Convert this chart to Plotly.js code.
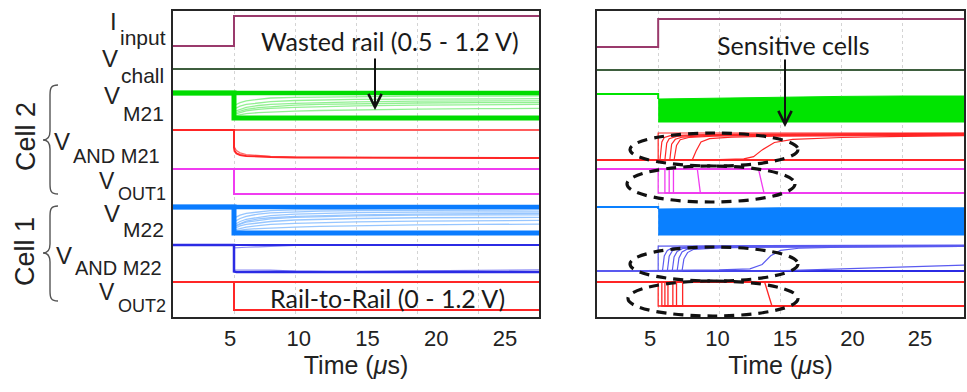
<!DOCTYPE html>
<html><head><meta charset="utf-8">
<script src="https://cdn.plot.ly/plotly-3.0.1.min.js"></script>
<style>html,body{margin:0;padding:0;background:#fff}</style>
</head><body><div id="chart" style="width:967px;height:392px"></div>
<script>
// ================= DATA =================
// time bases (µs)
const tSpan = [0, 30];
const tStep5 = [0, 5, 5, 30];
const tRail = [0, 5, 5, 5.5, 6, 7, 8, 10, 12, 15, 20, 25, 30];
const tAnd = [0, 5, 5, 5.05, 5.2, 5.5, 6, 7, 8, 10, 14, 20, 30];
const tBand = [5, 10, 15, 20, 25, 30];
const tPre = [0, 5, 5];

// common inputs (both panels)
const iInput = [0, 0, 1, 1];          // normalised input current
const vChall = [1.2, 1.2];            // V

// ---------- left panel : wasted rail ----------
const L_m21_high = [1.2,1.2,1.2,1.2,1.2,1.2,1.2,1.2,1.2,1.2,1.2,1.2,1.2];
const L_m21_low  = [1.2,1.2,0.5,0.5,0.5,0.5,0.5,0.5,0.5,0.5,0.5,0.5,0.5];
const L_m21_a = [1.2,1.2,0.60,0.66,0.70,0.74,0.77,0.80,0.82,0.84,0.86,0.87,0.88];
const L_m21_b = [1.2,1.2,0.68,0.75,0.80,0.85,0.88,0.91,0.93,0.95,0.97,0.98,0.98];
const L_m21_c = [1.2,1.2,0.75,0.83,0.88,0.93,0.96,0.99,1.01,1.02,1.03,1.04,1.04];
const L_m21_d = [1.2,1.2,0.85,0.93,0.98,1.03,1.06,1.08,1.09,1.10,1.11,1.11,1.12];
const L_m21_e = [1.2,1.2,0.56,0.60,0.62,0.65,0.67,0.69,0.71,0.73,0.75,0.76,0.77];
const L_m21_f = [1.2,1.2,0.64,0.70,0.74,0.79,0.82,0.86,0.88,0.90,0.92,0.93,0.93];

const L_and21_high = [1.2,1.2,1.2,1.2,1.2,1.2,1.2,1.2,1.2,1.2,1.2,1.2,1.2];
const L_and21_a = [1.2,1.2,0.45,0.30,0.20,0.13,0.09,0.06,0.04,0.02,0.01,0,0];
const L_and21_b = [1.2,1.2,0.60,0.45,0.32,0.22,0.15,0.10,0.07,0.04,0.02,0.01,0];

const L_out1_high = [1.2, 1.2];
const L_out1_low  = [1.2, 1.2, 0, 0];

const L_m22_high = [1.2,1.2,1.2,1.2,1.2,1.2,1.2,1.2,1.2,1.2,1.2,1.2,1.2];
const L_m22_low  = [1.2,1.2,0.5,0.5,0.5,0.5,0.5,0.5,0.5,0.5,0.5,0.5,0.5];
const L_m22_a = [1.2,1.2,0.58,0.63,0.66,0.70,0.73,0.76,0.78,0.80,0.82,0.83,0.84];
const L_m22_b = [1.2,1.2,0.62,0.69,0.73,0.78,0.81,0.85,0.87,0.89,0.91,0.92,0.92];
const L_m22_c = [1.2,1.2,0.66,0.74,0.79,0.84,0.88,0.92,0.94,0.96,0.98,0.99,0.99];
const L_m22_d = [1.2,1.2,0.72,0.81,0.87,0.93,0.97,1.01,1.03,1.05,1.06,1.07,1.07];
const L_m22_e = [1.2,1.2,0.80,0.89,0.95,1.01,1.04,1.07,1.09,1.10,1.11,1.12,1.12];
const L_m22_f = [1.2,1.2,0.55,0.58,0.60,0.62,0.64,0.66,0.68,0.70,0.72,0.73,0.74];
const L_m22_g = [1.2,1.2,0.90,0.98,1.03,1.07,1.10,1.12,1.13,1.14,1.15,1.15,1.16];
const L_m22_h = [1.2,1.2,0.68,0.76,0.82,0.88,0.91,0.95,0.97,0.99,1.01,1.02,1.03];

const L_and22_high = [1.2,1.2,1.2,1.2,1.2,1.2,1.2,1.2,1.2,1.2,1.2,1.2,1.2];
const L_and22_drop = [1.2,1.2,0.02,0.01,0,0,0,0,0,0,0,0,0];
const L_and22_back = [1.2,1.2,1.07,1.07,1.08,1.09,1.10,1.12,1.14,1.18,1.2,1.2,1.2];
const L_and22_near = [1.2,1.2,0.10,0.10,0.10,0.10,0.10,0.09,0.08,0.04,0.01,0.05,0.10];

const L_out2_high = [1.2, 1.2];
const L_out2_low  = [1.2, 1.2, 0, 0];

// ---------- right panel : rail-to-rail, sensitive cells ----------
const R_m21_pre = [1.2, 1.2, 1.075];
const R_m21_upper = [1.075, 1.10, 1.125, 1.14, 1.15, 1.15];
const R_m21_lower = [0.5, 0.5, 0.5, 0.5, 0.5, 0.5];

const R_and21_t1 = [0, 5, 5, 30];                               const R_and21_v1 = [0, 0, 1.2, 1.2];
const R_and21_t2 = [0, 5.15, 5.3, 5.5, 6, 8, 12, 20, 30];        const R_and21_v2 = [0, 0, 0.8, 1.0, 1.08, 1.12, 1.15, 1.17, 1.18];
const R_and21_t3 = [0, 5.55, 5.7, 5.9, 6.5, 8, 12, 20, 30];      const R_and21_v3 = [0, 0, 0.75, 0.95, 1.05, 1.10, 1.13, 1.15, 1.16];
const R_and21_t4 = [0, 5.95, 6.1, 6.4, 7, 9, 13, 20, 30];        const R_and21_v4 = [0, 0, 0.7, 0.92, 1.02, 1.08, 1.11, 1.13, 1.14];
const R_and21_t5 = [0, 6.3, 6.5, 6.8, 7.5, 9.5, 13, 20, 30];     const R_and21_v5 = [0, 0, 0.65, 0.9, 1.0, 1.06, 1.09, 1.11, 1.12];
const R_and21_t6 = [0, 7.8, 8.1, 8.5, 9.2, 11, 15, 22, 30];      const R_and21_v6 = [0, 0.02, 0.4, 0.8, 0.95, 1.02, 1.06, 1.09, 1.10];
const R_and21_t7 = [0, 5, 10, 12, 12.8, 13.5, 14.5, 16, 20, 25, 30];
const R_and21_v7 = [0, 0, 0.02, 0.05, 0.15, 0.45, 0.78, 0.92, 1.0, 1.05, 1.08];
const R_and21_low = [0, 0];

const R_out1_high = [1.2, 1.2];
const R_out1_fallStart = [5.0, 5.55, 5.9, 6.25, 8.2, 13.2];
const R_out1_fallEnd   = [5.0, 5.55, 5.9, 6.25, 8.45, 13.65];

const R_m22_pre = [1.2, 1.2, 1.15];
const R_m22_upper = [1.15, 1.17, 1.18, 1.18, 1.18, 1.18];
const R_m22_lower = [0.5, 0.5, 0.5, 0.5, 0.5, 0.5];

const R_and22_t1 = [0, 5, 5, 30];                                const R_and22_v1 = [0, 0, 1.15, 1.2];
const R_and22_t2 = [0, 5.35, 5.5, 5.75, 6.2, 8, 12, 20, 30];     const R_and22_v2 = [0, 0, 0.7, 0.95, 1.08, 1.13, 1.15, 1.16, 1.17];
const R_and22_t3 = [0, 5.75, 5.9, 6.15, 6.6, 8.5, 12, 20, 30];   const R_and22_v3 = [0, 0, 0.68, 0.93, 1.06, 1.12, 1.14, 1.15, 1.16];
const R_and22_t4 = [0, 6.15, 6.3, 6.55, 7.0, 9, 13, 20, 30];     const R_and22_v4 = [0, 0, 0.65, 0.9, 1.04, 1.10, 1.12, 1.14, 1.15];
const R_and22_t5 = [0, 6.55, 6.7, 6.95, 7.4, 9.5, 13, 20, 30];   const R_and22_v5 = [0, 0, 0.6, 0.88, 1.02, 1.08, 1.11, 1.13, 1.14];
const R_and22_t6 = [0, 6.95, 7.1, 7.4, 7.9, 10, 14, 20, 30];     const R_and22_v6 = [0, 0, 0.55, 0.85, 1.0, 1.07, 1.10, 1.12, 1.13];
const R_and22_t7 = [0, 5, 10, 12.5, 13.5, 14.2, 15, 16.5, 20, 25, 30];
const R_and22_v7 = [0, 0.02, 0.05, 0.1, 0.3, 0.7, 0.95, 1.05, 1.10, 1.12, 1.13];
const R_and22_t8 = [0, 14, 18, 22, 26, 30];                      const R_and22_v8 = [0, 0, 0.06, 0.14, 0.2, 0.27];
const R_and22_low = [0, 0];

const R_out2_high = [1.2, 1.2];
const R_out2_fallStart = [5.0, 5.3, 5.55, 5.8, 6.2, 6.5, 7.0, 13.7];
const R_out2_fallEnd   = [5.0, 5.3, 5.55, 5.8, 6.2, 6.5, 7.0, 14.3];

// axis tick labels
const tickVals = [5, 10, 15, 20, 25];
const tickText = ['5', '10', '15', '20', '25'];

// ================= LAYOUT / STYLE =================
const FIG = {w: 967, h: 392, l: 173, r: 3, t: 11, b: 75};
const PW = FIG.w - FIG.l - FIG.r, PH = FIG.h - FIG.t - FIG.b;
const px = v => (v - FIG.l) / PW;
const py = v => (FIG.h - FIG.b - v) / PH;
const domL = [0, px(539)], domR = [px(597), 1];

// pixel placement of each waveform strip (lo / hi value -> pixel row)
const stripL = {
  iin:{lo:0,hi:1,pLo:46,pHi:16}, chall:{lo:0,hi:1.2,pLo:89,pHi:69},
  m21:{lo:0.5,hi:1.2,pLo:118,pHi:93}, and21:{lo:0,hi:1.2,pLo:158,pHi:130},
  out1:{lo:0,hi:1.2,pLo:194,pHi:169}, m22:{lo:0.5,hi:1.2,pLo:233,pHi:207},
  and22:{lo:0,hi:1.2,pLo:272,pHi:245}, out2:{lo:0,hi:1.2,pLo:310,pHi:282}
};
const stripR = {
  iin:{lo:0,hi:1,pLo:47,pHi:19}, chall:{lo:0,hi:1.2,pLo:90,pHi:70},
  m21:{lo:0.5,hi:1.2,pLo:122,pHi:94}, and21:{lo:0,hi:1.2,pLo:160,pHi:133},
  out1:{lo:0,hi:1.2,pLo:193,pHi:169}, m22:{lo:0.5,hi:1.2,pLo:235,pHi:207},
  and22:{lo:0,hi:1.2,pLo:271,pHi:245}, out2:{lo:0,hi:1.2,pLo:306,pHi:282}
};
const COL = {iin:'#9a3a6c', chall:'#3e5e3e', m21:'#00dc00', m21l:'#86ee86', and21:'#ff2626',
  out1:'#f03cf0', m22:'#0a7cff', m22l:'#8cc0ff', and22:'#2b2be4', and22l:'#5a5af0', out2:'#ff2626', band:'#00e400', bandB:'#0a80ff'};

const FONT = "'Liberation Sans', Arial, sans-serif";
const layout = {
  width: FIG.w, height: FIG.h, margin: {l: FIG.l, r: FIG.r, t: FIG.t, b: FIG.b},
  paper_bgcolor: '#fff', plot_bgcolor: 'rgba(0,0,0,0)', showlegend: false,
  font: {family: FONT, color: '#222'},
  annotations: [], shapes: []
};
const frameAxis = {showline: true, mirror: true, linecolor: '#262626', linewidth: 1.6, zeroline: false, fixedrange: true};
layout.xaxis = Object.assign({}, frameAxis, {domain: domL, range: [0, 30], anchor: 'y', tickvals: tickVals, showticklabels: false, ticks: '',
  showgrid: true, gridcolor: '#d4d4d4', griddash: 'dot', gridwidth: 1});
layout.xaxis2 = Object.assign({}, frameAxis, {domain: domR, range: [0, 30], anchor: 'y2', tickvals: tickVals, showticklabels: false, ticks: '',
  showgrid: true, gridcolor: '#d4d4d4', griddash: 'dot', gridwidth: 1});
layout.yaxis = Object.assign({}, frameAxis, {domain: [0, 1], range: [0, 1], anchor: 'x', showticklabels: false, ticks: '', showgrid: false});
layout.yaxis2 = Object.assign({}, frameAxis, {domain: [0, 1], range: [0, 1], anchor: 'x2', showticklabels: false, ticks: '', showgrid: false});
// tick-label axes (labels placed as in the reference)
const labAxis = (ov, rng) => ({overlaying: ov, range: rng, tickvals: tickVals, ticktext: tickText, ticks: '', showgrid: false, showline: false,
  zeroline: false, fixedrange: true, side: 'bottom', anchor: ov === 'x' ? 'y' : 'y2', ticklabelstandoff: 6,
  tickfont: {family: FONT, size: 22, color: '#222'},
  title: {text: 'Time (<i>μ</i>s)', font: {family: FONT, size: 25, color: '#222'}, standoff: 2}});
layout.xaxis3 = labAxis('x', [0.855, 27.47]);
layout.xaxis4 = labAxis('x2', [1.074, 28.26]);
// invisible data x-axes for the waveform strips
layout.xaxis5 = {domain: domL, range: [0, 30], visible: false, fixedrange: true, anchor: 'free', position: 0};
layout.xaxis6 = {domain: domR, range: [0, 30], visible: false, fixedrange: true, anchor: 'free', position: 0};

const traces = [
  {x: [], y: [], xaxis: 'x', yaxis: 'y', hoverinfo: 'skip'},
  {x: [], y: [], xaxis: 'x2', yaxis: 'y2', hoverinfo: 'skip'},
  {x: [], y: [], xaxis: 'x3', yaxis: 'y', hoverinfo: 'skip'},
  {x: [], y: [], xaxis: 'x4', yaxis: 'y2', hoverinfo: 'skip'}
];
let yN = 2;
function strip(spec, xName) {
  yN++;
  const P = 4, k = (spec.hi - spec.lo) / (spec.pLo - spec.pHi);
  layout['yaxis' + yN] = {domain: [py(spec.pLo + P), py(spec.pHi - P)], range: [spec.lo - P * k, spec.hi + P * k],
    visible: false, fixedrange: true, anchor: xName, showgrid: false, zeroline: false};
  return 'y' + yN;
}
function line(x, y, xa, ya, color, width, opacity, extra) {
  traces.push(Object.assign({type: 'scatter', mode: 'lines', x: x, y: y, xaxis: xa, yaxis: ya,
    line: {color: color, width: width}, opacity: opacity == null ? 1 : opacity, hoverinfo: 'skip'}, extra || {}));
}
function fallTrace(start, end, hi) { return {x: [0, start, end, 30], y: [hi, hi, 0, 0]}; }

// ---------- left panel ----------
const xl = 'x5';
let ya = strip(stripL.iin, xl);   line(tStep5, iInput, xl, ya, COL.iin, 2);
ya = strip(stripL.chall, xl);     line(tSpan, vChall, xl, ya, COL.chall, 2);
ya = strip(stripL.m21, xl);
[L_m21_a, L_m21_b, L_m21_c, L_m21_d, L_m21_e, L_m21_f].forEach(v => line(tRail, v, xl, ya, COL.m21l, 1.3, 0.9));
line(tRail, L_m21_high, xl, ya, COL.m21, 4.5); line(tRail, L_m21_low, xl, ya, COL.m21, 5);
ya = strip(stripL.and21, xl);
line(tAnd, L_and21_b, xl, ya, COL.and21, 1.2, 0.7); line(tAnd, L_and21_a, xl, ya, COL.and21, 2);
line(tAnd, L_and21_high, xl, ya, COL.and21, 1.6);
ya = strip(stripL.out1, xl);
line(tSpan, L_out1_high, xl, ya, COL.out1, 2); line(tStep5, L_out1_low, xl, ya, COL.out1, 2);
ya = strip(stripL.m22, xl);
[L_m22_a, L_m22_b, L_m22_c, L_m22_d, L_m22_e, L_m22_f, L_m22_g, L_m22_h].forEach(v => line(tRail, v, xl, ya, COL.m22l, 1.3, 0.9));
line(tRail, L_m22_high, xl, ya, COL.m22, 4.5); line(tRail, L_m22_low, xl, ya, COL.m22, 5);
ya = strip(stripL.and22, xl);
line(tAnd, L_and22_near, xl, ya, COL.and22l, 1.2, 0.7); line(tAnd, L_and22_back, xl, ya, COL.and22l, 1.2, 0.7);
line(tAnd, L_and22_drop, xl, ya, COL.and22, 2.5); line(tAnd, L_and22_high, xl, ya, COL.and22, 2);
ya = strip(stripL.out2, xl);
line(tSpan, L_out2_high, xl, ya, COL.out2, 2); line(tStep5, L_out2_low, xl, ya, COL.out2, 2);

// ---------- right panel ----------
const xr = 'x6';
ya = strip(stripR.iin, xr);   line(tStep5, iInput, xr, ya, COL.iin, 2);
ya = strip(stripR.chall, xr); line(tSpan, vChall, xr, ya, COL.chall, 2);
ya = strip(stripR.m21, xr);
line(tPre, R_m21_pre, xr, ya, COL.band, 2);
line(tBand, R_m21_lower, xr, ya, COL.band, 1);
line(tBand, R_m21_upper, xr, ya, COL.band, 1, 1, {fill: 'tonexty', fillcolor: COL.band});
ya = strip(stripR.and21, xr);
line(tSpan, R_and21_low, xr, ya, COL.and21, 2);
[[R_and21_t1, R_and21_v1], [R_and21_t2, R_and21_v2], [R_and21_t3, R_and21_v3], [R_and21_t4, R_and21_v4],
 [R_and21_t5, R_and21_v5], [R_and21_t6, R_and21_v6], [R_and21_t7, R_and21_v7]].forEach(p => line(p[0], p[1], xr, ya, COL.and21, 1.2));
ya = strip(stripR.out1, xr);
line(tSpan, R_out1_high, xr, ya, COL.out1, 2);
R_out1_fallStart.forEach((s, i) => { const f = fallTrace(s, R_out1_fallEnd[i], 1.2); line(f.x, f.y, xr, ya, COL.out1, 1.3); });
ya = strip(stripR.m22, xr);
line(tPre, R_m22_pre, xr, ya, COL.bandB, 2);
line(tBand, R_m22_lower, xr, ya, COL.bandB, 1);
line(tBand, R_m22_upper, xr, ya, COL.bandB, 1, 1, {fill: 'tonexty', fillcolor: COL.bandB});
ya = strip(stripR.and22, xr);
line(tSpan, R_and22_low, xr, ya, COL.and22, 2.2);
[[R_and22_t1, R_and22_v1], [R_and22_t2, R_and22_v2], [R_and22_t3, R_and22_v3], [R_and22_t4, R_and22_v4],
 [R_and22_t5, R_and22_v5], [R_and22_t6, R_and22_v6], [R_and22_t7, R_and22_v7], [R_and22_t8, R_and22_v8]]
 .forEach(p => line(p[0], p[1], xr, ya, COL.and22l, 1.2));
ya = strip(stripR.out2, xr);
line(tSpan, R_out2_high, xr, ya, COL.out2, 2.2);
R_out2_fallStart.forEach((s, i) => { const f = fallTrace(s, R_out2_fallEnd[i], 1.2); line(f.x, f.y, xr, ya, COL.out2, 1.3); });

// ---------- text ----------
const ann = (o) => layout.annotations.push(Object.assign({xref: 'paper', yref: 'paper', showarrow: false}, o));
// main letter: right edge xm, centre ym, size ms; subscript: left edge xm+1, centre ys, size ss
const sigLabels = [
  {main: 'I', sub: 'input',   xm: 118, ym: 22,    ms: 24, ys: 37,    ss: 21},
  {main: 'V', sub: 'chall',   xm: 119, ym: 58.5,  ms: 24, ys: 75,    ss: 21},
  {main: 'V', sub: 'M21',     xm: 121, ym: 95,    ms: 24, ys: 113.5, ss: 21},
  {main: 'V', sub: 'AND M21', xm: 71,  ym: 141.5, ms: 24, ys: 156,   ss: 20},
  {main: 'V', sub: 'OUT1',    xm: 116, ym: 180.5, ms: 23, ys: 194,   ss: 18},
  {main: 'V', sub: 'M22',     xm: 121, ym: 213.5, ms: 24, ys: 229.5, ss: 21},
  {main: 'V', sub: 'AND M22', xm: 73,  ym: 255,   ms: 24, ys: 267.5, ss: 20},
  {main: 'V', sub: 'OUT2',    xm: 116, ym: 292,   ms: 23, ys: 306,   ss: 18}
];
sigLabels.forEach(s => {
  ann({text: s.main, x: px(s.xm), y: py(s.ym), xanchor: 'right', yanchor: 'middle', borderpad: 0,
    font: {family: FONT, size: s.ms, color: '#222'}});
  ann({text: s.sub, x: px(s.xm + 1), y: py(s.ys), xanchor: 'left', yanchor: 'middle', borderpad: 0,
    font: {family: FONT, size: s.ss, color: '#222'}});
});
ann({text: 'Cell 2', x: px(26), y: py(137), textangle: -90, xanchor: 'center', yanchor: 'middle', font: {family: FONT, size: 27, color: '#222'}});
ann({text: 'Cell 1', x: px(25), y: py(252), textangle: -90, xanchor: 'center', yanchor: 'middle', font: {family: FONT, size: 27, color: '#222'}});
const CAL = 'Lato, Carlito, Calibri, sans-serif';
ann({text: 'Wasted rail (0.5 - 1.2 V)', x: px(390), y: py(41), xanchor: 'center', yanchor: 'middle', font: {family: CAL, size: 25, color: '#1a1a1a'}});
ann({text: 'Sensitive cells', x: px(793), y: py(45), xanchor: 'center', yanchor: 'middle', font: {family: CAL, size: 25, color: '#1a1a1a'}});
ann({text: 'Rail-to-Rail (0 - 1.2 V)', x: px(387), y: py(298), xanchor: 'center', yanchor: 'middle', font: {family: CAL, size: 25, color: '#1a1a1a'}});
// arrows
layout.annotations.push({xref: 'paper', yref: 'paper', x: px(375), y: py(110), ax: 0, ay: -53, text: '', showarrow: true,
  arrowhead: 5, arrowsize: 1.3, arrowwidth: 2, arrowcolor: '#111', standoff: 0});
layout.annotations.push({xref: 'paper', yref: 'paper', x: px(785), y: py(127), ax: 0, ay: -69, text: '', showarrow: true,
  arrowhead: 5, arrowsize: 1.3, arrowwidth: 2, arrowcolor: '#111', standoff: 0});

// ---------- braces & dashed ellipses ----------
function brace(top, mid, bot) {
  const P = (x, y) => px(x) + ',' + py(y);
  return 'M' + P(58, top) + ' C' + P(51, top) + ' ' + P(50, top + 3) + ' ' + P(50, top + 10) +
    ' L' + P(50, mid - 9) + ' C' + P(50, mid - 3) + ' ' + P(47, mid) + ' ' + P(43, mid) +
    ' C' + P(47, mid) + ' ' + P(50, mid + 3) + ' ' + P(50, mid + 9) +
    ' L' + P(50, bot - 10) + ' C' + P(50, bot - 3) + ' ' + P(51, bot) + ' ' + P(58, bot);
}
layout.shapes.push({type: 'path', xref: 'paper', yref: 'paper', path: brace(85, 140, 194), line: {color: '#555', width: 1.4}});
layout.shapes.push({type: 'path', xref: 'paper', yref: 'paper', path: brace(206, 253, 301), line: {color: '#555', width: 1.4}});
const ellipses = [[630, 798, 133, 166], [627, 795, 166, 202], [630, 798, 247, 281], [628, 798, 281, 316]];
ellipses.forEach(e => layout.shapes.push({type: 'circle', xref: 'paper', yref: 'paper', x0: px(e[0]), x1: px(e[1]),
  y0: py(e[3]), y1: py(e[2]), line: {color: '#111', width: 3.2, dash: '10px,7px'}}));

Plotly.newPlot('chart', traces, layout, {staticPlot: true, displayModeBar: false});
</script></body></html>
